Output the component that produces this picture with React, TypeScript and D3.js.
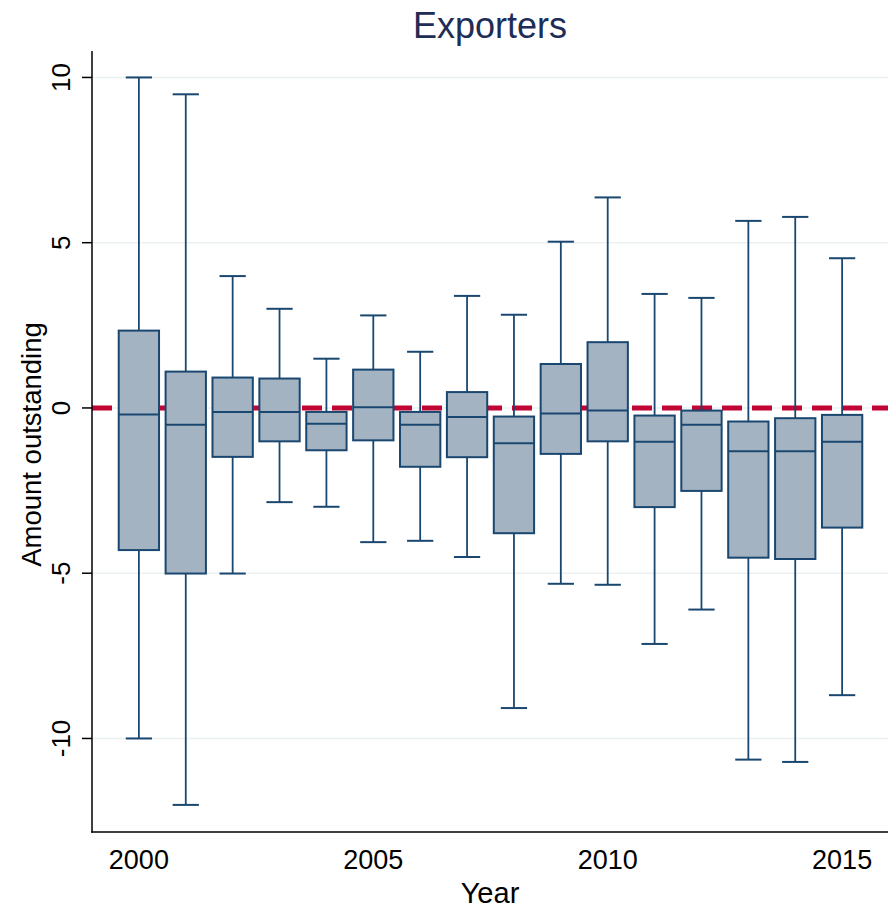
import React from "react";
import * as d3 from "d3";

const years = [2000, 2001, 2002, 2003, 2004, 2005, 2006, 2007, 2008, 2009, 2010, 2011, 2012, 2013, 2014, 2015];
const whiskerHigh = [10, 9.49, 3.99, 3.0, 1.49, 2.8, 1.7, 3.39, 2.82, 5.03, 6.37, 3.45, 3.33, 5.66, 5.78, 4.53];
const q3 = [2.34, 1.1, 0.92, 0.89, -0.12, 1.16, -0.12, 0.48, -0.26, 1.33, 1.99, -0.23, -0.08, -0.41, -0.31, -0.21];
const medians = [-0.2, -0.51, -0.12, -0.12, -0.48, 0.02, -0.51, -0.27, -1.07, -0.17, -0.08, -1.02, -0.51, -1.31, -1.31, -1.02];
const q1 = [-4.3, -5.01, -1.48, -1.01, -1.28, -0.98, -1.78, -1.49, -3.79, -1.39, -1.01, -3.0, -2.51, -4.53, -4.57, -3.62];
const whiskerLow = [-10, -12.01, -5.01, -2.85, -2.99, -4.06, -4.02, -4.51, -9.08, -5.32, -5.35, -7.14, -6.1, -10.64, -10.71, -8.69];

const yTicks = [-10, -5, 0, 5, 10];
const xTicks = [2000, 2005, 2010, 2015];

const title = "Exporters";
const xTitle = "Year";
const yTitle = "Amount outstanding";

export default function App() {
  const W = 888, H = 910;
  const left = 92, right = 888, top = 51, bottom = 832;
  const x = d3.scaleLinear().domain([1999, 2016]).range([left, right + 1]);
  const y = d3.scaleLinear().domain([-12.83, 10.8]).range([bottom, top]);
  const step = x(1) - x(0);
  const bw = step * 0.86;
  const cw = step * 0.56;
  const navy = "#1a476f";
  const font = "'Liberation Sans', Arial, sans-serif";

  return (
    <svg width={W} height={H} style={{ position: "absolute", left: 0, top: 0, background: "#fff" }} fontFamily={font}>
      <rect x={0} y={0} width={W} height={H} fill="#fff" />
      {yTicks.map((t) => (
        <line key={"g" + t} x1={left} x2={right} y1={y(t)} y2={y(t)} stroke="#eaf2f3" strokeWidth={1.6} />
      ))}
      <line x1={left} x2={right} y1={y(0)} y2={y(0)} stroke="#c10534" strokeWidth={5} strokeDasharray="20 10" />
      {years.map((yr, i) => {
        const cx = x(yr);
        return (
          <g key={yr}>
            <line x1={cx} x2={cx} y1={y(whiskerHigh[i])} y2={y(q3[i])} stroke={navy} strokeWidth={1.8} />
            <line x1={cx} x2={cx} y1={y(q1[i])} y2={y(whiskerLow[i])} stroke={navy} strokeWidth={1.8} />
            <line x1={cx - cw / 2} x2={cx + cw / 2} y1={y(whiskerHigh[i])} y2={y(whiskerHigh[i])} stroke={navy} strokeWidth={2} />
            <line x1={cx - cw / 2} x2={cx + cw / 2} y1={y(whiskerLow[i])} y2={y(whiskerLow[i])} stroke={navy} strokeWidth={2} />
            <rect x={cx - bw / 2} y={y(q3[i])} width={bw} height={y(q1[i]) - y(q3[i])} fill="#a4b3c2" stroke={navy} strokeWidth={2} />
            <line x1={cx - bw / 2} x2={cx + bw / 2} y1={y(medians[i])} y2={y(medians[i])} stroke={navy} strokeWidth={2} />
          </g>
        );
      })}
      <line x1={left} x2={left} y1={top} y2={bottom + 0.75} stroke="#000" strokeWidth={1.5} />
      <line x1={left - 0.75} x2={right} y1={bottom} y2={bottom} stroke="#000" strokeWidth={1.5} />
      {yTicks.map((t) => (
        <g key={"t" + t}>
          <line x1={left - 10} x2={left} y1={y(t)} y2={y(t)} stroke="#000" strokeWidth={1.5} />
          <text transform={`translate(${left - 22},${y(t)}) rotate(-90)`} textAnchor="middle" fontSize={26} fill="#000">
            {t}
          </text>
        </g>
      ))}
      {xTicks.map((t) => (
        <text key={"x" + t} x={x(t)} y={869} textAnchor="middle" fontSize={27} fill="#000">
          {t}
        </text>
      ))}
      <text x={(left + right) / 2} y={903} textAnchor="middle" fontSize={29} fill="#000">
        {xTitle}
      </text>
      <text transform={`translate(41,${(top + bottom) / 2 + 3}) rotate(-90)`} textAnchor="middle" fontSize={27.5} fill="#000">
        {yTitle}
      </text>
      <text x={(left + right) / 2} y={38} textAnchor="middle" fontSize={36} fill="#1e2d55">
        {title}
      </text>
    </svg>
  );
}
